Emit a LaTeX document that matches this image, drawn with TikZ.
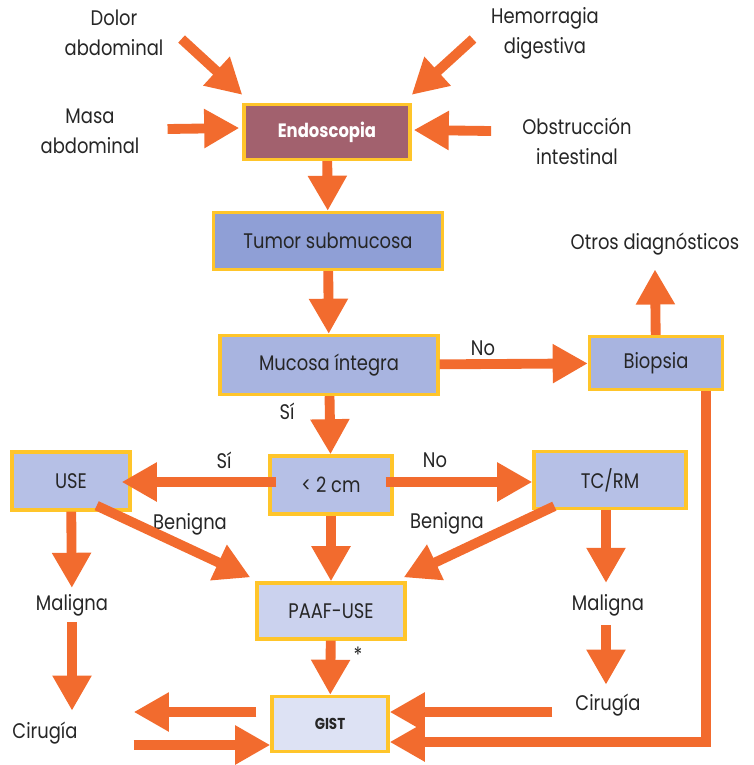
\documentclass[tikz,border=0pt]{standalone}
\usepackage{fontspec}
\setmainfont{Poppins}[FakeStretch=0.85]
\usetikzlibrary{arrows.meta}
\usetikzlibrary{calc}
\definecolor{flecha}{HTML}{F26B2E}
\definecolor{borde}{HTML}{FFC52A}
\definecolor{endocol}{HTML}{A2616E}
\definecolor{azul1}{HTML}{8F9FD6}
\definecolor{azul2}{HTML}{A8B4E0}
\definecolor{azul3}{HTML}{B6C0E6}
\definecolor{azul4}{HTML}{CBD2EE}
\definecolor{azul5}{HTML}{DDE2F4}
\begin{document}
\begin{tikzpicture}[x=0.02cm, y=-0.02cm,
        every node/.style={font=\fontsize{12}{13}\selectfont, text=black!85},
        caja/.style={draw=borde, line width=1.9pt, inner sep=0pt, align=center},
        txt/.style={align=center, font=\fontsize{12}{17}\selectfont},
        arr/.style={flecha, line width=5.6pt, -{Triangle[width=21pt, length=20pt]}}]
        \useasboundingbox (0,0) rectangle (754,765);

        \node[caja, fill=endocol, minimum width=166*0.02cm, minimum height=55*0.02cm, text=white, font=\fontsize{11}{12}\selectfont\bfseries] (endo) at (327,132) {Endoscopia};
        \node[caja, fill=azul1, minimum width=229*0.02cm, minimum height=57*0.02cm] (tumor) at (328,241) {Tumor submucosa};
        \node[caja, fill=azul2, minimum width=218*0.02cm, minimum height=59*0.02cm] (mucosa) at (329,365) {Mucosa íntegra};
        \node[caja, fill=azul2, minimum width=133*0.02cm, minimum height=53*0.02cm] (biop) at (656,363) {Biopsia};
        \node[caja, fill=azul3, minimum width=118*0.02cm, minimum height=58*0.02cm] (use) at (71,481) {USE};
        \node[caja, fill=azul3, minimum width=122*0.02cm, minimum height=58*0.02cm] (menor) at (331,485) {< 2 cm};
        \node[caja, fill=azul3, minimum width=152*0.02cm, minimum height=57*0.02cm] (tcrm) at (610,480) {TC/RM};
        \node[caja, fill=azul4, minimum width=148*0.02cm, minimum height=56*0.02cm] (paaf) at (331,611) {PAAF-USE};
        \node[caja, fill=azul5, minimum width=116*0.02cm, minimum height=55*0.02cm, font=\fontsize{9}{11}\selectfont\bfseries] (gist) at (330,724) {GIST};

        \node[txt] (dolor) at (114,33) {Dolor\\abdominal};
        \node[txt] (hemo) at (545,33) {Hemorragia\\digestiva};
        \node[txt] (masa) at (90,131) {Masa\\abdominal};
        \node[txt] (obst) at (577,141) {Obstrucción\\intestinal};
        \node[txt] (otros) at (655,244) {Otros diagnósticos};
        \node[txt] (malL) at (72,605) {Maligna};
        \node[txt] (malR) at (608,605) {Maligna};
        \node[txt] (cirL) at (45,733) {Cirugía};
        \node[txt] (cirR) at (608,705) {Cirugía};

        \node (no1) at (483,348) {No};
        \node (si1) at (287,411) {Sí};
        \node (si2) at (224,460) {Sí};
        \node (no2) at (435,460) {No};
        \node (ben1) at (190,524) {Benigna};
        \node (ben2) at (447,523) {Benigna};
        \node (ast) at (358,655) {*};

        \draw[arr] ($(dolor.east)+(12,6)$) -- ($(endo.north west)+(0,-8)$);
        \draw[arr] ($(hemo.west)+(-12,6)$) -- ($(endo.north east)+(0,-8)$);
        \draw[arr] ($(masa.east)+(22,-2)$) -- ($(endo.west)+(-3,-4)$);
        \draw[arr] ($(obst.west)+(-25,-10)$) -- ($(endo.east)+(2,-2)$);
        \draw[arr] (endo) -- (tumor);
        \draw[arr] (tumor) -- (mucosa);
        \draw[arr] (mucosa) -- (biop);
        \draw[arr] (biop) -- ($(otros.south)+(0,8)$);
        \draw[arr] ($(biop.south)+(50,0)$) |- ($(gist.east)+(0,18)$);
        \draw[arr] (mucosa) -- (menor);
        \draw[arr] ($(menor.west)+(8,-3)$) -- ($(use.east)+(-10,1)$);
        \draw[arr] ($(menor.east)+(-8,-3)$) -- ($(tcrm.west)+(0,2)$);
        \draw[arr] (menor) -- (paaf);
        \draw[arr] ($(use.south east)+(-35,-6)$) -- ($(paaf.north west)+(-5,-4)$);
        \draw[arr] ($(tcrm.south west)+(22,-4)$) -- ($(paaf.north east)+(-3,-4)$);
        \draw[arr] (use) -- (malL);
        \draw[arr] (malL) -- ($(cirL.north)+(27,-5)$);
        \draw[arr] ($(tcrm.south)+(-4,0)$) -- ($(malR.north)+(-2,-5)$);
        \draw[arr] ($(malR.south)+(-2,3)$) -- ($(cirR.north)+(-2,-3)$);
        \draw[arr] (paaf) -- (gist);
        \draw[arr] ($(gist.west)+(-14,-12)$) -- ($(cirL.east)+(50,-21)$);
        \draw[arr] ($(cirL.east)+(50,12)$) -- ($(gist.west)+(0,21)$);
        \draw[arr] ($(cirR.west)+(-17,7)$) -- ($(gist.east)+(0,-12)$);
    \end{tikzpicture}
\end{document}
